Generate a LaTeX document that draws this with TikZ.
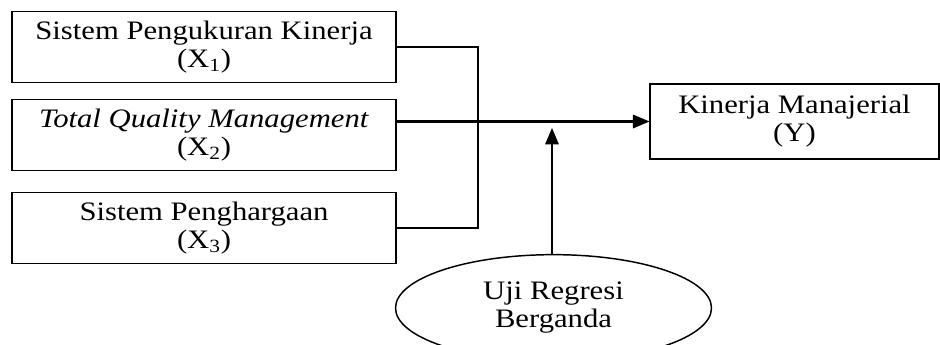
\documentclass[tikz,border=0pt]{standalone}
\usepackage{fontspec}
\setmainfont{Liberation Serif}[FakeStretch=1.15]
\usepackage{tikz}
\usetikzlibrary{arrows,shapes.geometric}

\begin{document}
\begin{tikzpicture}[x=0.75pt,y=-0.75pt]
% Default actions for each node
\tikzstyle{every node}=[font=\fontsize{20pt}{21pt}\selectfont, align=center, inner sep=0pt];
\tikzstyle{varbox} = [draw, line width=1.1pt, minimum width=288pt, minimum height=53.5pt]
\tikzstyle{link} = [draw, line width=1pt, -]
\tikzstyle{arr} = [draw, line width=1.9pt, -triangle 45]
\useasboundingbox (0,0) rectangle (940,345);
% Define the three variable boxes and the result box
\node [varbox] (x1) at (204,47) {Sistem Pengukuran Kinerja\\(X\textsubscript{1})};
\node [varbox] (x2) at (204,135) {\textit{Total Quality Management}\\(X\textsubscript{2})};
\node [varbox] (x3) at (204,228) {Sistem Penghargaan\\(X\textsubscript{3})};
\node [draw, line width=1.1pt, minimum width=216.5pt, minimum height=56pt] (y) at (794.5,121.5) {Kinerja Manajerial\\(Y)};
\node [draw, ellipse, line width=1.1pt, minimum width=237pt, minimum height=80pt] (uji) at (553.5,308) {Uji Regresi\\Berganda};
% Junction and arrow tip
\coordinate (m) at (478,121.5);
\coordinate (t) at (552,128);
% Draw the connectors
\draw [link] (x1.east) -| (m);
\draw [link] (x3.east) -| (m);
\draw [arr] (x2.east |- m) -- (m) -- (y.west);
\draw [arr] (uji.north -| t) -- (t);
\end{tikzpicture}
\end{document}
